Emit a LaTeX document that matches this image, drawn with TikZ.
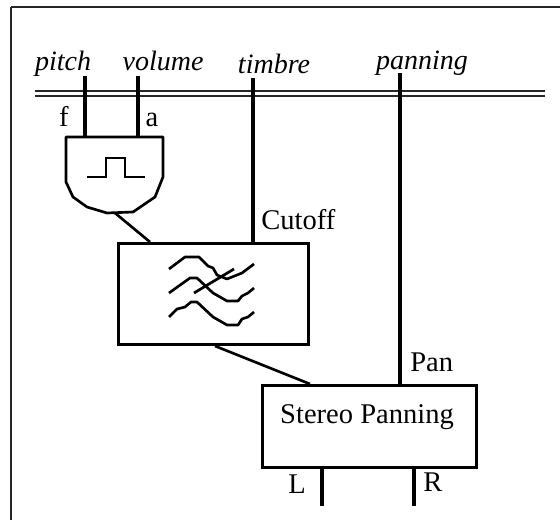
\documentclass[tikz,border=0pt]{standalone}
\usepackage{fontspec}
\setmainfont{Liberation Serif}
\begin{document}
\begin{tikzpicture}[
        x=0.75pt, y=-0.75pt,
        wire/.style={line width=2.5pt, black},
        block/.style={rectangle, draw=black, line width=2pt, fill=white, inner sep=0pt},
        ctrl/.style={font=\fontsize{21}{24}\selectfont\itshape, text=black, inner sep=0pt, anchor=base},
        lbl/.style={font=\fontsize{21.4}{24}\selectfont, text=black, inner sep=0pt, anchor=base}
    ]
    \useasboundingbox (0,0) rectangle (560,520);

    % Outer frame and control bus
    \draw[line width=1.8pt, black!85] (11,7) -- (560,7);
    \draw[line width=1.8pt, black!85] (11,7) -- (11,520);
    \draw[line width=0.9pt, black!85] (35,91) -- (545,91);
    \draw[line width=1.4pt, black!85] (35,96) -- (545,96);

    % Controls
    \node[ctrl] (pitch) at (63,71) {pitch};
    \node[ctrl] (volume) at (163,71) {volume};
    \node[ctrl] (timbre) at (274,74) {timbre};
    \node[ctrl] (panning) at (422,70) {panning};
    \coordinate (pitchend) at (85,76);
    \coordinate (volumeend) at (138,76);
    \coordinate (timbreend) at (253,78);
    \coordinate (panningend) at (400,73);

    % Oscillator
    \coordinate (oscf) at (85,137);
    \coordinate (osca) at (138,137);
    \coordinate (oscout) at (115,213);
    \draw[line width=2pt, black, line join=round] (66,137) -- (163,137) -- (163,177) -- (155,197)
        -- (133,212) -- (107,213) -- (87,207) -- (73,197) -- (66,182) -- cycle;
    \draw[line width=2pt, black] (87,177) -- (106,177) -- (106,158) -- (125,158) -- (125,177) -- (145,177);
    \node[lbl] (f) at (64,127) {f};
    \node[lbl] (a) at (152,127) {a};

    % Filter
    \node[block, minimum width=142.5pt, minimum height=75.75pt, anchor=north west] (filter) at (117,242) {};
    \coordinate (filterin) at (150,242);
    \coordinate (cutoffin) at (253,242);
    \coordinate (filterout) at (215,346);
    \draw[line width=2pt, black, line join=round] (169,269) -- (185,257) -- (199,257) -- (208,266)
        -- (213,268) -- (217,275) -- (227,279) -- (242,273) -- (254,264);
    \draw[line width=2pt, black, line join=round] (169,293) -- (190,278) -- (197,278) -- (213,293)
        -- (227,301) -- (238,301) -- (242,296) -- (248,293) -- (254,288);
    \draw[line width=2pt, black, line join=round] (169,317) -- (177,309) -- (185,307) -- (191,302)
        -- (197,302) -- (213,317) -- (227,325) -- (238,325) -- (242,319) -- (248,317) -- (254,312);
    \draw[line width=2pt, black] (194,293) -- (234,269);
    \node[lbl, anchor=base west] (cutoff) at (261,230) {Cutoff};

    % Panning
    \node[block, minimum width=160.5pt, minimum height=61.5pt, anchor=north west] (stereo) at (261,384) {};
    \node[lbl] (stereotext) at (367,423) {Stereo Panning};
    \coordinate (stereoin) at (310,384);
    \coordinate (panin) at (400,384);
    \coordinate (leftstart) at (322,466);
    \coordinate (rightstart) at (414,466);
    \coordinate (leftend) at (322,506);
    \coordinate (rightend) at (414,506);
    \node[lbl, anchor=base west] (pan) at (410,371) {Pan};
    \node[lbl] (L) at (297,493) {L};
    \node[lbl] (R) at (433,491) {R};

    % Wires
    \draw[wire] (pitchend) -- (oscf);
    \draw[wire] (volumeend) -- (osca);
    \draw[wire] (timbreend) -- (cutoffin);
    \draw[wire] (panningend) -- (panin);
    \draw[wire, line width=2pt] (oscout) -- (filterin);
    \draw[wire, line width=2pt] (filterout) -- (stereoin);
    \draw[wire] (leftstart) -- (leftend);
    \draw[wire] (rightstart) -- (rightend);
\end{tikzpicture}
\end{document}
